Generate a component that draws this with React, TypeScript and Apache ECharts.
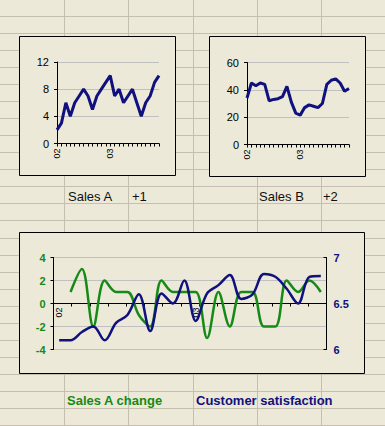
import React, { useEffect, useRef } from "react";
import * as echarts from "echarts";

const months = [
  "Jan 02", "Feb 02", "Mar 02", "Apr 02", "May 02", "Jun 02", "Jul 02", "Aug 02", "Sep 02", "Oct 02", "Nov 02", "Dec 02",
  "Jan 03", "Feb 03", "Mar 03", "Apr 03", "May 03", "Jun 03", "Jul 03", "Aug 03", "Sep 03", "Oct 03", "Nov 03", "Dec 03",
];
const salesA = [2, 3, 6, 4, 6, 7, 8, 7, 5, 7, 8, 9, 10, 7, 8, 6, 7, 8, 6, 4, 6, 7, 9, 10];
const salesB = [34, 45, 43, 45, 44, 32, 33, 33.5, 35, 42.5, 31, 23, 21.5, 27, 29, 28, 27, 30, 44, 47, 48, 45, 39, 41];
const salesAChange = [null, 1, 3, -2, 2, 1, 1, -1, -2, 2, 1, 1, 1, -3, 1, -2, 1, 1, -2, -2, 2, 1, 2, 1];
const satisfaction = [6.1, 6.1, 6.19, 6.25, 6.1, 6.29, 6.375, 6.6, 6.2, 6.61, 6.5, 6.75, 6.31, 6.61, 6.7, 6.81, 6.55, 6.6, 6.82, 6.79, 6.66, 6.5, 6.79, 6.8];

const BG = "#ECE9D8";
const SHEET_GRID = "#c4bfae";
const SPLIT = "#c0c0c0";
const NAVY = "#10107e";
const GREEN = "#168a16";
const FONT = "Liberation Sans";

export default function App() {
  const ref = useRef<HTMLDivElement>(null);
  useEffect(() => {
    const chart = echarts.init(ref.current!, null, { renderer: "svg" });
    const graphics: any[] = [];
    for (let k = 1; k <= 5; k++) {
      const x = Math.round(64.2 * k) + 0.5;
      graphics.push({ type: "line", z: -10, shape: { x1: x, y1: 0, x2: x, y2: 426 }, style: { stroke: SHEET_GRID, lineWidth: 1 } });
    }
    for (let k = 0; k <= 24; k++) {
      const y = Math.round(16 + 17.04 * k) + 0.5;
      graphics.push({ type: "line", z: -10, shape: { x1: 0, y1: y, x2: 385, y2: y }, style: { stroke: SHEET_GRID, lineWidth: 1 } });
    }
    const boxes = [
      [19.5, 36.5, 156, 139],
      [209.5, 36.5, 156, 140],
      [19.5, 232.5, 345, 141],
    ];
    boxes.forEach((b) =>
      graphics.push({ type: "rect", z: -5, shape: { x: b[0], y: b[1], width: b[2], height: b[3] }, style: { fill: BG, stroke: "#000", lineWidth: 1 } })
    );
    const texts: [string, number, number, string, string][] = [
      ["Sales A", 68, 196, "#111", "normal"],
      ["+1", 132, 196, "#111", "normal"],
      ["Sales B", 259, 196, "#111", "normal"],
      ["+2", 323, 196, "#111", "normal"],
      ["Sales A change", 67, 400, GREEN, "bold"],
      ["Customer satisfaction", 196, 400, NAVY, "bold"],
    ];
    texts.forEach((t) =>
      graphics.push({
        type: "text",
        z: -4,
        x: t[1],
        y: t[2],
        style: { text: t[0], fill: t[3], font: `${t[4]} 13px "${FONT}"`, verticalAlign: "middle", align: "left" },
      })
    );

    const smallX = (gi: number) => ({
      type: "category",
      gridIndex: gi,
      data: months,
      boundaryGap: false,
      axisLine: { lineStyle: { color: "#000", width: 1 } },
      axisTick: { show: true, length: 3, interval: 0, lineStyle: { color: "#000" } },
      axisLabel: {
        interval: (i: number) => i % 12 === 0,
        rotate: 90,
        fontSize: 9,
        color: "#000",
        margin: 5,
        fontFamily: FONT,
        formatter: (v: string) => v.slice(-2),
      },
      splitLine: { show: false },
    });
    const smallY = (gi: number, max: number, interval: number) => ({
      type: "value",
      gridIndex: gi,
      min: 0,
      max,
      interval,
      axisLine: { show: true, lineStyle: { color: "#000" } },
      axisTick: { show: true, length: 3, lineStyle: { color: "#000" } },
      axisLabel: { fontSize: 11, color: "#000", margin: 8, fontFamily: FONT },
      splitLine: { show: true, lineStyle: { color: SPLIT } },
    });

    const option: any = {
      animation: false,
      backgroundColor: BG,
      textStyle: { fontFamily: FONT },
      graphic: graphics,
      grid: [
        { left: 57, top: 62, width: 102, height: 81.5 },
        { left: 247, top: 62.5, width: 102, height: 82 },
        { left: 53.5, top: 257.5, width: 273, height: 92 },
      ],
      xAxis: [
        smallX(0),
        smallX(1),
        {
          type: "category",
          gridIndex: 2,
          data: months,
          boundaryGap: true,
          position: "bottom",
          offset: -46,
          axisLine: { onZero: false, lineStyle: { color: "#000", width: 1 } },
          axisTick: { show: false },
          axisLabel: {
            interval: (i: number) => i % 12 === 0,
            rotate: 90,
            fontSize: 9,
            color: "#000",
            margin: 4,
            fontFamily: FONT,
            formatter: (v: string) => v.slice(-2),
          },
          splitLine: { show: false },
        },
        {
          type: "value",
          gridIndex: 2,
          min: 0,
          max: 15,
          interval: 1,
          position: "bottom",
          offset: -46,
          axisLine: { show: false, onZero: false },
          axisTick: { show: true, length: 3, lineStyle: { color: "#000" } },
          axisLabel: { show: false },
          splitLine: { show: false },
        },
      ],
      yAxis: [
        smallY(0, 12, 4),
        smallY(1, 60, 20),
        {
          type: "value",
          gridIndex: 2,
          min: -4,
          max: 4,
          interval: 2,
          axisLine: { show: true, onZero: false, lineStyle: { color: "#000" } },
          axisTick: { show: true, length: 3, lineStyle: { color: "#000" } },
          axisLabel: { fontSize: 11, fontWeight: "bold", color: GREEN, margin: 8, fontFamily: FONT },
          splitLine: { show: true, lineStyle: { color: SPLIT } },
        },
        {
          type: "value",
          gridIndex: 2,
          position: "right",
          min: 6,
          max: 7,
          interval: 0.5,
          axisLine: { show: true, onZero: false, lineStyle: { color: "#000" } },
          axisTick: { show: true, inside: true, length: 3, lineStyle: { color: "#000" } },
          axisLabel: { fontSize: 11, fontWeight: "bold", color: NAVY, margin: 7, fontFamily: FONT },
          splitLine: { show: false },
        },
      ],
      series: [
        { type: "line", name: "Sales A", xAxisIndex: 0, yAxisIndex: 0, data: salesA, showSymbol: false, lineStyle: { width: 3, color: NAVY } },
        { type: "line", name: "Sales B", xAxisIndex: 1, yAxisIndex: 1, data: salesB, showSymbol: false, lineStyle: { width: 3, color: NAVY } },
        { type: "line", name: "Sales A change", xAxisIndex: 2, yAxisIndex: 2, data: salesAChange, smooth: 0.35, showSymbol: false, lineStyle: { width: 2.5, color: GREEN } },
        { type: "line", name: "Customer satisfaction", xAxisIndex: 2, yAxisIndex: 3, data: satisfaction, smooth: 0.35, showSymbol: false, lineStyle: { width: 2.5, color: NAVY } },
      ],
    };
    chart.setOption(option);
    return () => chart.dispose();
  }, []);
  return <div ref={ref} style={{ position: "fixed", left: 0, top: 0, width: 385, height: 426 }} />;
}
